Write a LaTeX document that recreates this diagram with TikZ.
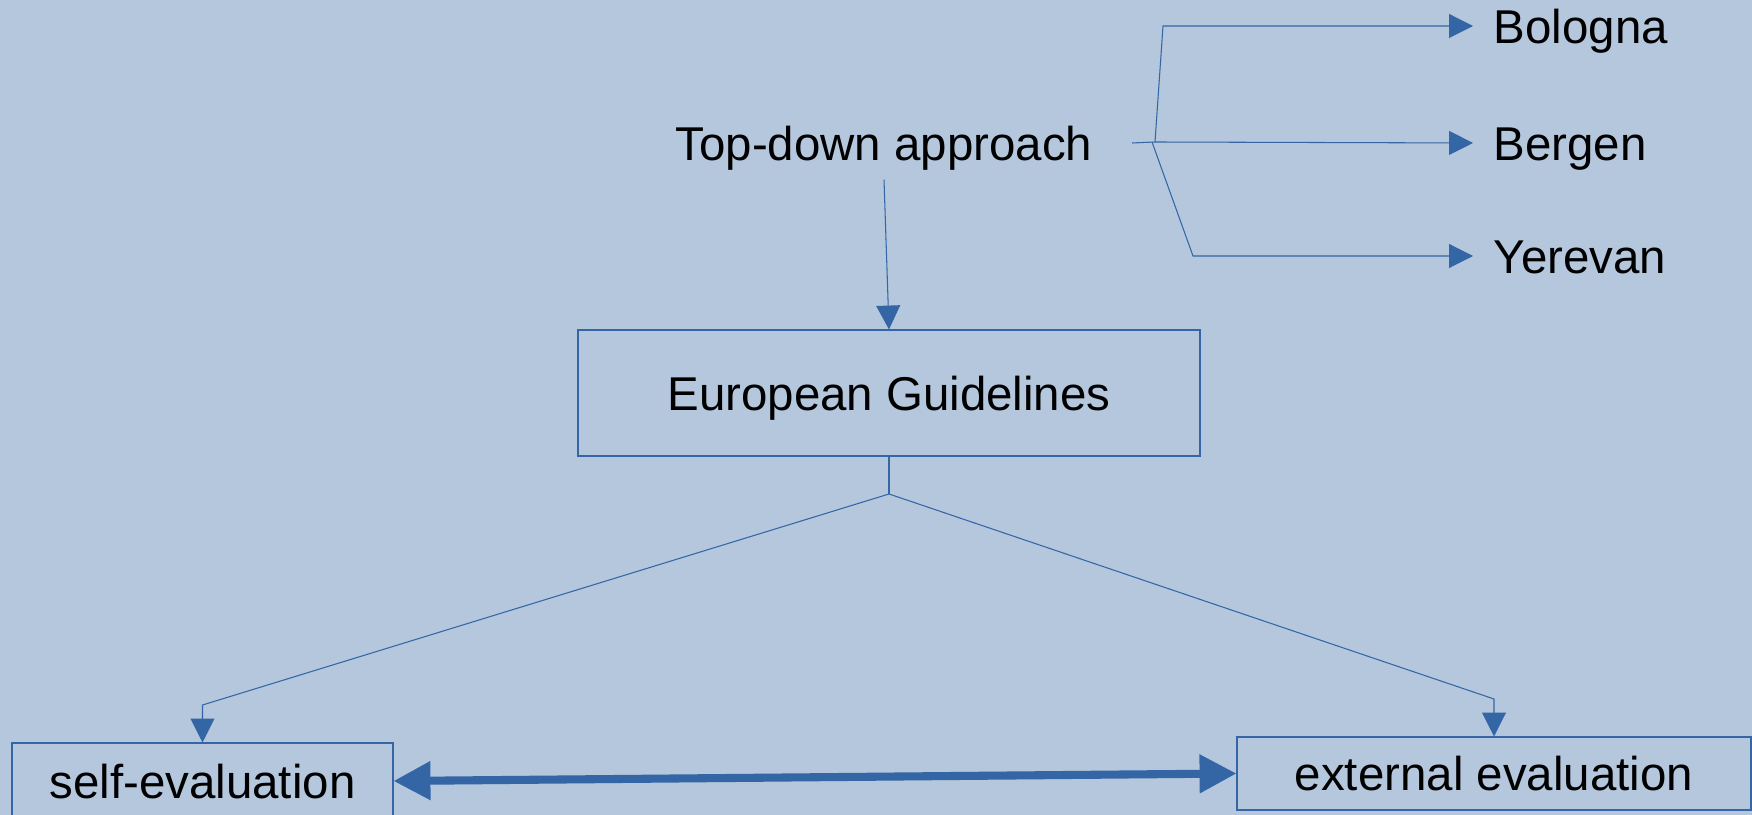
\documentclass[tikz,border=0pt]{standalone}
\usepackage{fontspec}
\setmainfont{Liberation Sans}
\usepackage{tikz}
\usetikzlibrary{arrows.meta}
\definecolor{bgblue}{HTML}{B4C7DD}
\definecolor{lineblue}{HTML}{3465A4}

\begin{document}
\begin{tikzpicture}[
        font=\fontsize{13.5}{16}\selectfont,
        txt/.style={text height=9.7pt, text depth=0pt},
        thin line/.style={lineblue, line width=0.3pt},
        small tip/.style={-{Triangle[length=6.8pt, width=6.8pt]}},
        box/.style={txt, draw=lineblue, line width=0.3pt, inner sep=0pt}
    ]
        \fill[bgblue] (0,0) rectangle (17.52,-8.15);
        \useasboundingbox (0,0) rectangle (17.52,-8.15);

        \node[txt, inner xsep=0.39cm, inner ysep=0.19cm] (td) at (8.84,-1.43) {Top-down approach};
        \node[txt, anchor=west, inner xsep=0.2cm] (bol) at (14.73,-0.26) {Bologna};
        \node[txt, anchor=west, inner xsep=0.2cm] (ber) at (14.73,-1.43) {Bergen};
        \node[txt, anchor=west, inner xsep=0.2cm] (yer) at (14.73,-2.56) {Yerevan};

        \node[box, minimum width=6.22cm, minimum height=1.26cm] (eg) at (8.89,-3.93) {European Guidelines};
        \node[box, minimum width=3.81cm, minimum height=0.76cm] (self) at (2.025,-7.81) {self-evaluation};
        \node[box, minimum width=5.14cm, minimum height=0.73cm] (ext) at (14.94,-7.735) {external evaluation};

        \coordinate (split) at (11.55,-1.42);
        \coordinate (fork) at (8.89,-4.94);

        \draw[thin line] (td.east) -- (split);
        \draw[thin line, small tip] (split) -- (11.63,-0.26) -- (bol.west);
        \draw[thin line, small tip] (split) -- (ber.west);
        \draw[thin line, small tip] (11.52,-1.42) -- (11.93,-2.56) -- (yer.west);

        \draw[thin line, small tip] (td.south) -- (eg.north);
        \draw[thin line] (eg.south) -- (fork);
        \draw[thin line, small tip] (fork) -- (2.025,-7.05) -- (self.north);
        \draw[thin line, small tip] (fork) -- (14.94,-6.99) -- (ext.north);

        \draw[lineblue, line width=2.3pt, {Triangle[length=10.5pt, width=10.5pt]}-{Triangle[length=10.5pt, width=10.5pt]}] (self.east) -- (ext.west);
    \end{tikzpicture}
\end{document}
